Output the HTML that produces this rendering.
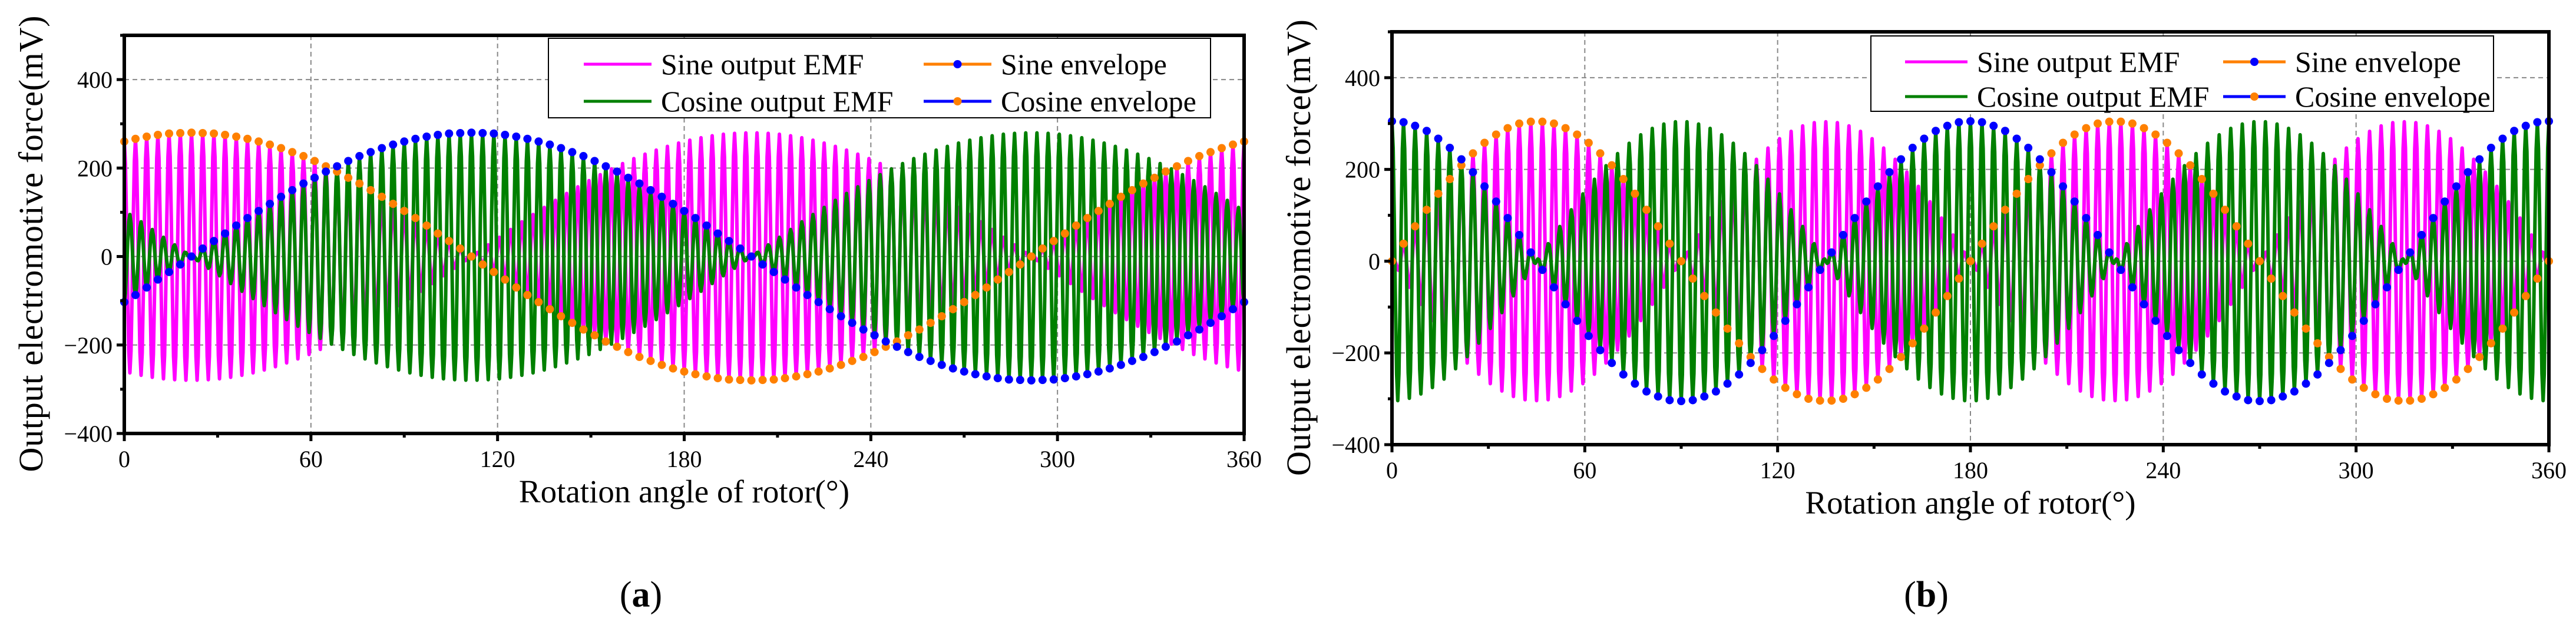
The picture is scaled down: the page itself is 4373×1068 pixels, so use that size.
<!DOCTYPE html>
<html><head><meta charset="utf-8">
<style>
html,body{margin:0;padding:0;background:#fff;}
svg{display:block;font-family:"Liberation Serif",serif;}
</style></head>
<body>
<svg id="fig" width="4373" height="1068" viewBox="0 0 4373 1068" xmlns="http://www.w3.org/2000/svg">
<rect width="4373" height="1068" fill="#fff"/>
</svg>
<script>
// ---- data ----
const xTicks = [0, 60, 120, 180, 240, 300, 360];
const yTicks = [-400, -200, 0, 200, 400];
const markerStep = 3.6; // degrees between envelope samples
const sineEnvA = [260,266,271,275,278,279,280,279,278,275,271,266,260,253,245,236,227,216,204,192,178,165,150,135,119,103,87,70,52,35,18,0,-18,-35,-52,-70,-87,-103,-119,-135,-150,-165,-178,-192,-204,-216,-227,-236,-245,-253,-260,-266,-271,-275,-278,-279,-280,-279,-278,-275,-271,-266,-260,-253,-245,-236,-227,-216,-204,-192,-178,-165,-150,-135,-119,-103,-87,-70,-52,-35,-18,0,18,35,52,70,87,103,119,135,150,165,178,192,204,216,227,236,245,253,260];
const cosEnvA = [-103,-87,-70,-52,-35,-18,0,18,35,52,70,87,103,119,135,150,165,178,192,204,216,227,236,245,253,260,266,271,275,278,279,280,279,278,275,271,266,260,253,245,236,227,216,204,192,178,165,150,135,119,103,87,70,52,35,18,0,-18,-35,-52,-70,-87,-103,-119,-135,-150,-165,-178,-192,-204,-216,-227,-236,-245,-253,-260,-266,-271,-275,-278,-279,-280,-279,-278,-275,-271,-266,-260,-253,-245,-236,-227,-216,-204,-192,-178,-165,-150,-135,-119,-103];
const sineEnvB = [0,38,76,112,147,179,209,235,258,276,290,300,304,304,300,290,276,258,235,209,179,147,112,76,38,0,-38,-76,-112,-147,-179,-209,-235,-258,-276,-290,-300,-304,-304,-300,-290,-276,-258,-235,-209,-179,-147,-112,-76,-38,0,38,76,112,147,179,209,235,258,276,290,300,304,304,300,290,276,258,235,209,179,147,112,76,38,0,-38,-76,-112,-147,-179,-209,-235,-258,-276,-290,-300,-304,-304,-300,-290,-276,-258,-235,-209,-179,-147,-112,-76,-38,0];
const cosEnvB = [305,303,295,284,267,247,222,194,163,130,94,57,19,-19,-57,-94,-130,-163,-194,-222,-247,-267,-284,-295,-303,-305,-303,-295,-284,-267,-247,-222,-194,-163,-130,-94,-57,-19,19,57,94,130,163,194,222,247,267,284,295,303,305,303,295,284,267,247,222,194,163,130,94,57,19,-19,-57,-94,-130,-163,-194,-222,-247,-267,-284,-295,-303,-305,-303,-295,-284,-267,-247,-222,-194,-163,-130,-94,-57,-19,19,57,94,130,163,194,222,247,267,284,295,303,305];

const NS = "http://www.w3.org/2000/svg";
const svg = document.getElementById('fig');
function mk(tag, attrs, parent) {
  const e = document.createElementNS(NS, tag);
  for (const k in attrs) e.setAttribute(k, attrs[k]);
  (parent || svg).appendChild(e);
  return e;
}

function drawPanel(p) {
  const g = mk('g', {});
  
  
  const X = v => p.left + (v - 0) / 360 * (p.right - p.left);
  const Y = v => p.bottom - (v + 400) / 900 * (p.bottom - p.top);

  // grid
  const grid = mk('g', {stroke: '#888', 'stroke-width': 2, 'stroke-dasharray': '8,6', fill: 'none'}, g);
  
  
  yTicks.forEach(v => { if (v > -400) mk('line', {x1: p.left, x2: p.right, y1: Y(v), y2: Y(v)}, grid); });
  xTicks.forEach(v => { if (v > 0 && v < 360) mk('line', {x1: X(v), x2: X(v), y1: p.top, y2: p.bottom}, grid); });

  // EMF carriers
  function emf(env, color, nm) {
    const pts = [];
    const n = env.length - 1;
    const sub = 10;
    for (let i = 0; i < n; i++) {
      for (let s = 0; s < sub; s++) {
        const t = s / sub;
        const w = (1 - Math.cos(Math.PI * t)) / 2;
        const e = env[i] * (1 - w) + env[i + 1] * w;
        const val = e * Math.cos(2 * Math.PI * t);
        pts.push(X((i + t) * markerStep).toFixed(1) + ',' + Y(val).toFixed(1));
      }
    }
    pts.push(X(n * markerStep).toFixed(1) + ',' + Y(env[n]).toFixed(1));
    const pl = mk('polyline', {points: pts.join(' '), fill: 'none', stroke: color, 'stroke-width': 6, 'stroke-linejoin': 'round'}, g);
    
    
  }
  emf(p.sine, '#ff00ff', 'sine-output-emf-line');
  emf(p.cos, '#008000', 'cosine-output-emf-line');

  function dots(env, color, nm) {
    const dg = mk('g', {fill: color}, g);
    
    
    env.forEach((v, i) => {
      const c = mk('circle', {cx: X(i * markerStep), cy: Y(v), r: 7}, dg);
      
      
    });
  }
  dots(p.sine, '#ff8000', 'sine-envelope-points');
  dots(p.cos, '#0000ff', 'cosine-envelope-points');

  // axes frame
  const ax = mk('g', {stroke: '#000', 'stroke-width': 6, fill: 'none'}, g);
  
  
  mk('rect', {x: p.left, y: p.top, width: p.right - p.left, height: p.bottom - p.top}, ax);
  // ticks
  const tk = mk('g', {stroke: '#000', 'stroke-width': 5}, g);
  
  
  xTicks.forEach(v => mk('line', {x1: X(v), x2: X(v), y1: p.bottom, y2: p.bottom + 13}, tk));
  for (let v = 30; v < 360; v += 60) mk('line', {x1: X(v), x2: X(v), y1: p.bottom, y2: p.bottom + 7}, tk);
  yTicks.forEach(v => mk('line', {x1: p.left - 13, x2: p.left, y1: Y(v), y2: Y(v)}, tk));
  for (let v = -300; v <= 500; v += 200) mk('line', {x1: p.left - 7, x2: p.left, y1: Y(v), y2: Y(v)}, tk);

  // tick labels
  xTicks.forEach(v => {
    const t = mk('text', {x: X(v), y: p.bottom + 57, 'font-size': 40, 'text-anchor': 'middle'}, g);
    t.textContent = v;
    
    
  });
  yTicks.forEach(v => {
    const t = mk('text', {x: p.left - 20, y: Y(v) + 14, 'font-size': 40, 'text-anchor': 'end'}, g);
    t.textContent = v < 0 ? '\u2212' + Math.abs(v) : v;
    
    
  });

  // axis titles
  const xt = mk('text', {x: (p.left + p.right) / 2, y: p.bottom + 117, 'font-size': 55, 'text-anchor': 'middle'}, g);
  xt.textContent = 'Rotation angle of rotor(\u00b0)';
  
  
  const yt = mk('text', {x: 0, y: 0, 'font-size': 58, 'text-anchor': 'middle', textLength: 775, lengthAdjust: 'spacing',
    transform: 'translate(' + p.ytx + ',' + ((p.top + p.bottom) / 2 + 16) + ') rotate(-90)'}, g);
  yt.textContent = 'Output electromotive force(mV)';
  
  

  // legend
  const L = p.leg;
  const lg = mk('g', {}, g);
  
  
  mk('rect', {x: L.x, y: L.y, width: L.w, height: L.h, fill: '#fff', stroke: '#000', 'stroke-width': 2}, lg);
  const entries = [
    {t: 'Sine output EMF', c: '#ff00ff', d: null, col: 0, row: 0},
    {t: 'Cosine output EMF', c: '#008000', d: null, col: 0, row: 1},
    {t: 'Sine envelope', c: '#ff8000', d: '#0000ff', col: 1, row: 0},
    {t: 'Cosine envelope', c: '#0000ff', d: '#ff8000', col: 1, row: 1}
  ];
  entries.forEach(e => {
    const eg = mk('g', {}, lg);
    
    
    const lx = L.col[e.col], ly = L.rows[e.row];
    mk('line', {x1: lx, x2: lx + L.lw, y1: ly, y2: ly, stroke: e.c, 'stroke-width': 5}, eg);
    if (e.d) mk('circle', {cx: lx + L.lw / 2, cy: ly, r: 7, fill: e.d}, eg);
    const t = mk('text', {x: lx + L.lw + 16, y: ly + 17, 'font-size': 50}, eg);
    t.textContent = e.t;
  });

  // panel label
  const pl = mk('text', {x: p.labelX, y: 1030, 'font-size': 62, 'text-anchor': 'middle'}, g);
  
  
  pl.innerHTML = '(<tspan font-weight="bold">' + p.label + '</tspan>)';
}

drawPanel({name: 'panel-a', left: 211, right: 2112, top: 60, bottom: 736, sine: sineEnvA, cos: cosEnvA,
  ytx: 72, label: 'a', labelX: 1088,
  leg: {x: 931, y: 65, w: 1124, h: 135, col: [991, 1568], rows: [109, 172], lw: 115}});
drawPanel({name: 'panel-b', left: 2363, right: 4327, top: 54, bottom: 755, sine: sineEnvB, cos: cosEnvB,
  ytx: 2224, label: 'b', labelX: 3270,
  leg: {x: 3176, y: 61, w: 1057, h: 128, col: [3234, 3774], rows: [105, 164], lw: 106}});
</script>
</body></html>
